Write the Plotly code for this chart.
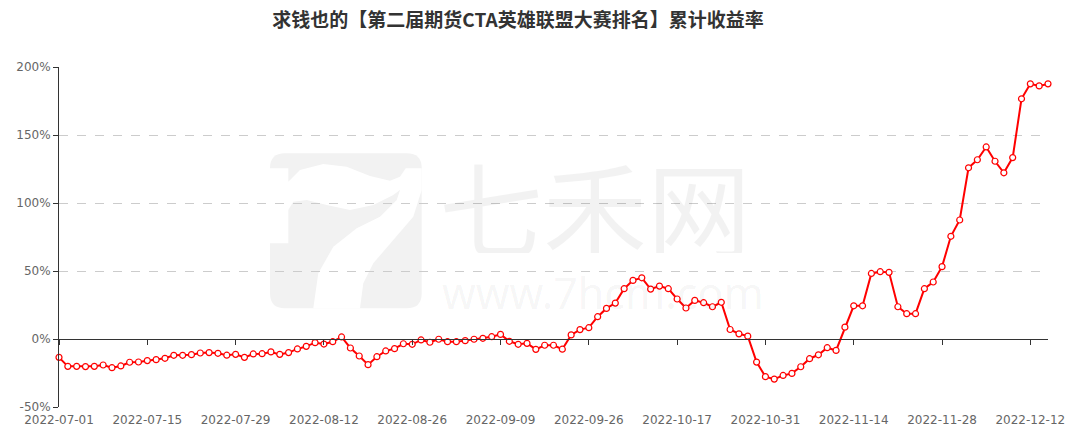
import plotly.graph_objects as go

title_text = "求钱也的【第二届期货CTA英雄联盟大赛排名】累计收益率"

dates = (
    ["2022-07-01", "2022-07-04", "2022-07-05", "2022-07-06", "2022-07-07", "2022-07-08",
     "2022-07-11", "2022-07-12", "2022-07-13", "2022-07-14", "2022-07-15",
     "2022-07-18", "2022-07-19", "2022-07-20", "2022-07-21", "2022-07-22",
     "2022-07-25", "2022-07-26", "2022-07-27", "2022-07-28", "2022-07-29"]
    + ["2022-08-01", "2022-08-02", "2022-08-03", "2022-08-04", "2022-08-05",
       "2022-08-08", "2022-08-09", "2022-08-10", "2022-08-11", "2022-08-12",
       "2022-08-15", "2022-08-16", "2022-08-17", "2022-08-18", "2022-08-19",
       "2022-08-22", "2022-08-23", "2022-08-24", "2022-08-25", "2022-08-26",
       "2022-08-29", "2022-08-30", "2022-08-31"]
    + ["2022-09-01", "2022-09-02", "2022-09-05", "2022-09-06", "2022-09-07",
       "2022-09-08", "2022-09-09", "2022-09-13", "2022-09-14", "2022-09-15",
       "2022-09-16", "2022-09-19", "2022-09-20", "2022-09-21", "2022-09-22",
       "2022-09-23", "2022-09-26", "2022-09-27", "2022-09-28", "2022-09-29",
       "2022-09-30"]
    + ["2022-10-10", "2022-10-11", "2022-10-12", "2022-10-13", "2022-10-14",
       "2022-10-17", "2022-10-18", "2022-10-19", "2022-10-20", "2022-10-21",
       "2022-10-24", "2022-10-25", "2022-10-26", "2022-10-27", "2022-10-28",
       "2022-10-31"]
    + ["2022-11-01", "2022-11-02", "2022-11-03", "2022-11-04",
       "2022-11-07", "2022-11-08", "2022-11-09", "2022-11-10", "2022-11-11",
       "2022-11-14", "2022-11-15", "2022-11-16", "2022-11-17", "2022-11-18",
       "2022-11-21", "2022-11-22", "2022-11-23", "2022-11-24", "2022-11-25",
       "2022-11-28", "2022-11-29", "2022-11-30"]
    + ["2022-12-01", "2022-12-02", "2022-12-05", "2022-12-06", "2022-12-07",
       "2022-12-08", "2022-12-09", "2022-12-12", "2022-12-13", "2022-12-14"]
)

returns_pct = [
    -13.5, -20.1, -20.1, -20.3, -20.1, -19.1, -21.1, -19.8, -17.1, -16.9,
    -15.9, -15.2, -14.2, -12.0, -12.0, -11.5, -10.3, -10.0, -10.5, -11.9,
    -11.3, -13.5, -11.0, -10.8, -9.5, -11.3, -10.0, -7.3, -5.4, -2.7,
    -3.7, -2.0, 1.5, -6.6, -12.5, -18.9, -13.0, -8.8, -7.1, -3.5,
    -3.9, -0.7, -2.4, -0.2, -2.0, -2.0, -1.2, -0.2, 0.5, 1.7,
    3.4, -1.7, -3.9, -3.2, -7.6, -4.6, -4.6, -7.5, 3.0, 6.9,
    8.3, 16.4, 22.5, 26.4, 37.0, 43.1, 45.0, 36.7, 38.9, 37.0,
    29.4, 22.8, 28.4, 26.7, 23.7, 27.0, 7.0, 3.8, 2.1, -17.0,
    -27.7, -29.5, -26.8, -25.3, -20.4, -14.5, -11.6, -6.4, -8.4, 8.7,
    24.4, 24.4, 48.2, 49.5, 49.0, 23.7, 18.6, 18.6, 37.0, 41.9,
    53.2, 75.5, 87.5, 125.9, 131.8, 141.2, 130.7, 122.2, 133.4, 176.6,
    187.6, 186.1, 187.6,
]

x_tick_dates = dates[::10]
y_tick_vals = [-50, 0, 50, 100, 150, 200]
y_tick_text = ["-50%", "0%", "50%", "100%", "150%", "200%"]

W, H = 1077, 435
ML, MR, MT, MB = 59, 29, 67, 28
PW, PH = W - ML - MR, H - MT - MB


def pp(x, y):
    return (x - ML) / PW, (H - MB - y) / PH


def path_from(points, close=True):
    s = ""
    for i, (x, y) in enumerate(points):
        px, py = pp(x, y)
        s += ("M" if i == 0 else "L") + f"{px:.5f},{py:.5f} "
    return s + ("Z" if close else "")


def rounded_rect(x0, y0, x1, y1, r):
    def P(x, y):
        a, b = pp(x, y)
        return f"{a:.5f},{b:.5f}"
    return (f"M{P(x0 + r, y0)} L{P(x1 - r, y0)} Q{P(x1, y0)} {P(x1, y0 + r)} "
            f"L{P(x1, y1 - r)} Q{P(x1, y1)} {P(x1 - r, y1)} L{P(x0 + r, y1)} "
            f"Q{P(x0, y1)} {P(x0, y1 - r)} L{P(x0, y0 + r)} Q{P(x0, y0)} {P(x0 + r, y0)} Z")


logo_cut = [
    (270, 168.3), (288.3, 168.3), (288.3, 181.7), (300, 170), (323.3, 164),
    (346.7, 166.7), (370, 176), (390, 180.7), (400, 176.7), (405.7, 168.3),
    (421.7, 168.3), (421.7, 190), (413.3, 216.7), (393.3, 240), (373.3, 263.3),
    (363.3, 283.3), (360, 308.3), (313.3, 308.3), (318.3, 273.3), (333.3, 246.7),
    (356.7, 228.3), (380, 216.7), (396.7, 200), (400, 190), (393.3, 195),
    (373.3, 205), (350, 210), (326.7, 205), (306.7, 200), (293.3, 201.7),
    (288.3, 210), (288.3, 243.3), (270, 243.3),
]

fig = go.Figure()
fig.add_trace(go.Scatter(
    x=dates, y=returns_pct, mode="lines+markers",
    line=dict(color="#ff0000", width=2),
    marker=dict(symbol="circle", size=6, color="#ffffff",
                line=dict(color="#ff0000", width=1.2)),
    cliponaxis=False, showlegend=False,
    hovertemplate="%{x}<br>%{y:.2f}%<extra></extra>",
))

shapes = [
    dict(type="path", xref="paper", yref="paper", layer="below",
         path=rounded_rect(270, 153.3, 421.7, 308.3, 15),
         fillcolor="#f2f2f2", line=dict(width=0)),
    dict(type="path", xref="paper", yref="paper", layer="below",
         path=path_from(logo_cut), fillcolor="#ffffff", line=dict(width=0)),
]

ax, ay = pp(595, 205)
bx, by = pp(603, 292)
annotations = [
    dict(text="七禾网", xref="paper", yref="paper", x=ax, y=ay,
         xanchor="center", yanchor="middle", showarrow=False,
         height=96, width=330, valign="middle",
         font=dict(family="Noto Sans CJK SC", size=104, color="rgba(0,0,0,0.05)")),
    dict(text="www.7hcm.com", xref="paper", yref="paper", x=bx, y=by,
         xanchor="center", yanchor="middle", showarrow=False,
         height=38, valign="middle",
         font=dict(family="Noto Sans", size=43, color="rgba(0,0,0,0.05)")),
]

fig.update_layout(
    width=W, height=H,
    margin=dict(l=ML, r=MR, t=MT, b=MB, pad=0, autoexpand=False),
    paper_bgcolor="#ffffff", plot_bgcolor="#ffffff",
    title=dict(text="<b>" + title_text + "</b>", x=518 / W, xanchor="center",
               xref="container", y=1 - 20 / H, yanchor="middle", yref="container",
               font=dict(family="Noto Sans CJK SC", size=19, color="#333333")),
    shapes=shapes, annotations=annotations,
    font=dict(family="DejaVu Sans", size=12, color="#666666"),
    xaxis=dict(
        type="category", range=[0, len(dates) - 1],
        tickmode="array", tickvals=x_tick_dates, ticktext=x_tick_dates,
        anchor="free", position=50 / 250, automargin=False,
        showline=True, linecolor="#333333", linewidth=1,
        ticks="outside", ticklen=5, tickcolor="#333333",
        showgrid=False, zeroline=False,
        ticklabelstandoff=65,
        tickfont=dict(family="DejaVu Sans", size=12, color="#666666"),
    ),
    yaxis=dict(
        range=[-50, 200], tickmode="array", tickvals=y_tick_vals, ticktext=y_tick_text,
        automargin=False,
        showline=True, linecolor="#333333", linewidth=1,
        ticks="outside", ticklen=5, tickcolor="#333333",
        showgrid=True, gridcolor="#cccccc", griddash="dash", gridwidth=1,
        zeroline=False,
        tickfont=dict(family="DejaVu Sans", size=12, color="#666666"),
    ),
)

fig.write_html("out.html", config={"displayModeBar": False},
               post_script="document.body.style.margin='0';")
